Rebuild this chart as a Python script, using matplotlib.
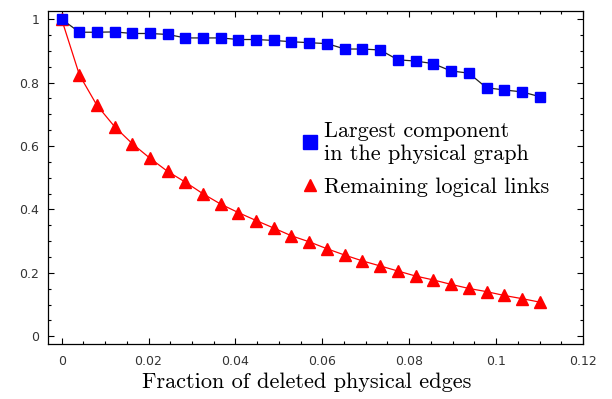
import matplotlib
matplotlib.use("Agg")
import matplotlib.pyplot as plt
from matplotlib.lines import Line2D
from matplotlib.ticker import MultipleLocator, FuncFormatter

# fraction of deleted physical edges
frac_deleted = [0.0, 0.0041, 0.0081, 0.0122, 0.0163, 0.0203, 0.0244, 0.0285,
                0.0326, 0.0366, 0.0407, 0.0448, 0.0489, 0.0529, 0.0570, 0.0611,
                0.0652, 0.0692, 0.0733, 0.0774, 0.0815, 0.0855, 0.0896, 0.0937,
                0.0978, 0.1018, 0.1059, 0.1100]
# largest component in the physical graph
largest_comp = [1.000, 0.959, 0.959, 0.960, 0.955, 0.955, 0.952, 0.941,
                0.941, 0.941, 0.936, 0.936, 0.933, 0.929, 0.926, 0.923,
                0.906, 0.906, 0.903, 0.872, 0.868, 0.860, 0.837, 0.830,
                0.784, 0.777, 0.771, 0.756]
# remaining logical links
remaining_links = [1.000, 0.824, 0.729, 0.661, 0.607, 0.562, 0.520, 0.486,
                   0.449, 0.417, 0.390, 0.365, 0.341, 0.317, 0.298, 0.276,
                   0.256, 0.238, 0.222, 0.206, 0.190, 0.178, 0.164, 0.151,
                   0.141, 0.129, 0.119, 0.108]

x_ticks = [0, 0.02, 0.04, 0.06, 0.08, 0.1, 0.12]
y_ticks = [0, 0.2, 0.4, 0.6, 0.8, 1]

serif = "cmr10"

fig = plt.figure(figsize=(6.12, 3.99), dpi=100)
ax = fig.add_axes([0.078, 0.138, 0.8746, 0.8337])

ax.plot(frac_deleted, remaining_links, color="red", lw=0.9,
        marker="^", ms=8, mfc="red", mec="red", zorder=3)
ax.plot(frac_deleted, largest_comp, color="#222222", lw=0.9,
        marker="s", ms=7, mfc="#0000ff", mec="#0000ff", zorder=4)

ax.set_xlim(-0.0032, 0.12)
ax.set_ylim(-0.024, 1.025)
ax.set_xticks(x_ticks)
ax.set_yticks(y_ticks)
ax.xaxis.set_minor_locator(MultipleLocator(0.005))
ax.yaxis.set_minor_locator(MultipleLocator(0.05))

fmt = FuncFormatter(lambda v, p: ("%g" % round(v, 4)))
ax.xaxis.set_major_formatter(fmt)
ax.yaxis.set_major_formatter(fmt)

ax.tick_params(which="both", direction="in", top=True, right=True,
               labelsize=9, labelcolor="#333333", width=0.8)
ax.tick_params(which="major", length=4)
ax.tick_params(which="minor", length=2.3)
ax.tick_params(axis="x", pad=8)
ax.tick_params(axis="y", pad=6)
for s in ax.spines.values():
    s.set_linewidth(0.9)

ax.set_xlabel("Fraction of deleted physical edges", family=serif, fontsize=16)
ax.xaxis.set_label_coords(0.483, -0.085)

handles = [
    Line2D([], [], ls="none", marker="s", ms=10, mfc="#0000ff", mec="#0000ff"),
    Line2D([], [], ls="none", marker="^", ms=8, mfc="red", mec="red"),
]
labels = ["Largest component\nin the physical graph", "Remaining logical links"]
ax.legend(handles, labels, loc="upper left", bbox_to_anchor=(0.469, 0.669),
          frameon=False, prop={"family": serif, "size": 16},
          handletextpad=0.15, handlelength=1.0, labelspacing=0.62,
          borderpad=0, borderaxespad=0)

fig.savefig("out.png", dpi=100)
